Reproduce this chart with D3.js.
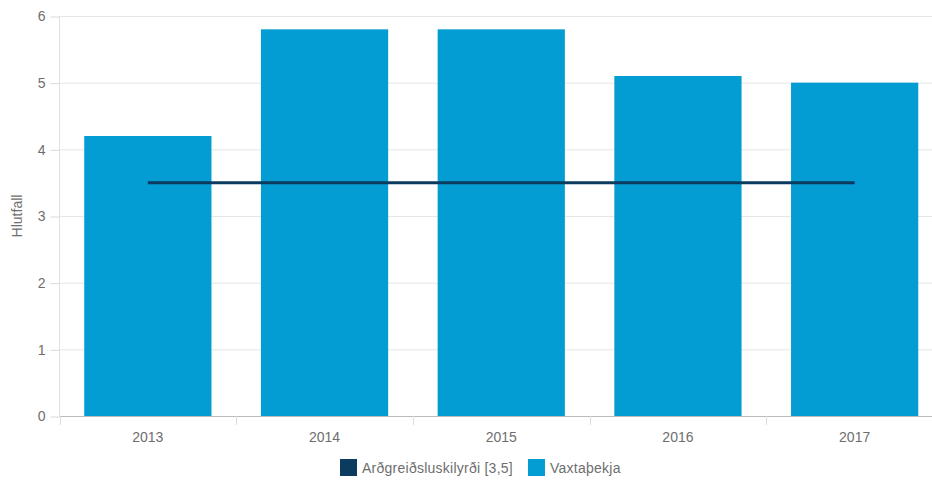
<!DOCTYPE html>
<html><head><meta charset="utf-8">
<script src="https://cdn.jsdelivr.net/npm/d3@7"></script>
<style>body{margin:0;background:#fff;overflow:hidden}svg{display:block;font-family:"Liberation Sans",Arial,sans-serif}</style>
</head><body><svg id="c" width="932" height="481"></svg>
<script>
const categories = ["2013","2014","2015","2016","2017"];
const vaxtathekja = [4.2, 5.8, 5.8, 5.1, 5.0];
const skilyrdi = [3.5, 3.5, 3.5, 3.5, 3.5];
const yTicks = [0,1,2,3,4,5,6];
const seriesNames = ["Arðgreiðsluskilyrði [3,5]", "Vaxtaþekja"];
const colors = ["#0b3b5e", "#049dd3"];

(function(){
const svg = d3.select("#c");
const pl = 59.5, pr = 943, pt = 16, pb = 416;
const textColor = "#6e6e6e";
const x = d3.scaleBand().domain(categories).range([pl, pr]).paddingInner(0.28).paddingOuter(0.14);
const y = d3.scaleLinear().domain([0,6]).range([pb, pt]);

// grid
svg.append("g").selectAll("line").data(yTicks.filter(d=>d>0)).join("line")
  .attr("x1", pl).attr("x2", 932).attr("y1", d=>y(d)+0.5).attr("y2", d=>y(d)+0.5)
  .attr("stroke", "#e6e6e6");

// y axis
const ya = svg.append("g").attr("transform", `translate(${pl},0.5)`)
  .call(d3.axisLeft(y).tickValues(yTicks).tickFormat(d3.format("d")).tickSize(9).tickPadding(5));
ya.select(".domain").attr("stroke", "#e0e0e0").attr("d", `M0,${pt}V${pb}`);
ya.selectAll(".tick line").attr("stroke", "#d8d8d8");
ya.selectAll("text").attr("fill", textColor).attr("font-size", 14).attr("font-family", "Liberation Sans, Arial, sans-serif");

// bars
svg.append("g").selectAll("rect").data(vaxtathekja).join("rect")
  .attr("x", (d,i)=>x(categories[i])).attr("width", x.bandwidth())
  .attr("y", d=>y(d)).attr("height", d=>pb - y(d)).attr("fill", colors[1]);

// x axis
const xa = svg.append("g").attr("transform", `translate(0,${pb})`);
xa.append("line").attr("x1", pl).attr("x2", 932).attr("y1", 0.5).attr("y2", 0.5).attr("stroke", "#bbb");
const step = x.step();
const edges = d3.range(categories.length+1).map(i=>pl + i*step);
xa.selectAll(".tk").data(edges).join("line").attr("class","tk")
  .attr("x1", d=>Math.round(d)+0.5).attr("x2", d=>Math.round(d)+0.5).attr("y1", 0).attr("y2", 9).attr("stroke", "#ddd");
xa.selectAll("text").data(categories).join("text")
  .attr("x", d=>x(d)+x.bandwidth()/2).attr("y", 26).attr("text-anchor","middle")
  .attr("fill", textColor).attr("font-size", 14).text(d=>d);

// line
const line = d3.line().x((d,i)=>x(categories[i])+x.bandwidth()/2).y(d=>y(d));
svg.append("path").datum(skilyrdi).attr("d", line).attr("fill","none").attr("stroke", colors[0]).attr("stroke-width", 3);

// y label
svg.append("text").attr("transform", "translate(22,216) rotate(-90)").attr("text-anchor","middle")
  .attr("fill", textColor).attr("font-size", 14).text("Hlutfall");

// legend
const lg = svg.append("g").attr("transform", "translate(340,459)");
let lx = 0;
seriesNames.forEach((n,i)=>{
  const g = lg.append("g").attr("transform", `translate(${lx},0)`);
  g.append("rect").attr("width",17).attr("height",17).attr("fill", colors[i]);
  const t = g.append("text").attr("x", 22).attr("y", 14).attr("fill", textColor).attr("font-size", 14)
    .attr("letter-spacing", 0.25).text(n);
  lx += 22 + t.node().getComputedTextLength() + 15;
});
})();
</script></body></html>
